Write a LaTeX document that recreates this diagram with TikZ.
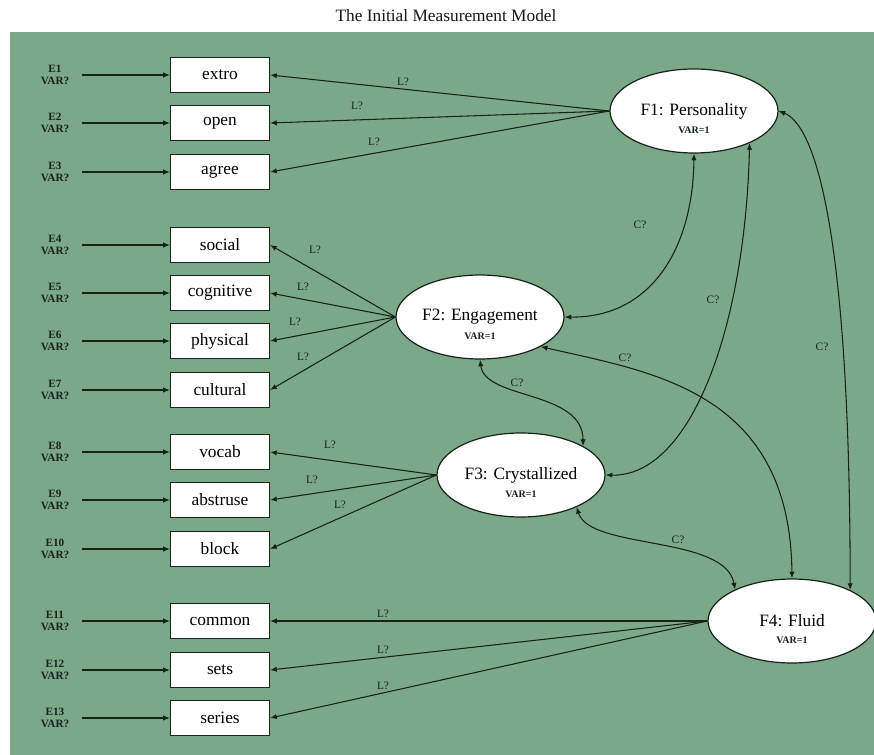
\documentclass[tikz,border=0pt]{standalone}
\usepackage{fontspec}
\setmainfont{Liberation Serif}
\usetikzlibrary{arrows.meta,shapes.geometric}
\definecolor{bg}{RGB}{124,168,138}
\definecolor{ink}{RGB}{22,34,26}
\begin{document}
\begin{tikzpicture}[x=0.75pt,y=-0.75pt,
  obs/.style={draw=ink, fill=white, line width=0.9pt, minimum width=74.25pt, minimum height=26.5pt, inner sep=0pt, font=\fontsize{13}{15}\selectfont},
  lat/.style={ellipse, draw=ink, fill=white, line width=0.9pt, minimum width=126pt, minimum height=63pt, inner sep=0pt, font=\fontsize{13}{15}\selectfont},
  varl/.style={inner sep=0pt, font=\bfseries\fontsize{7.5}{8}\selectfont, text=ink},
  err/.style={align=center, inner sep=0pt, minimum width=40pt, font=\bfseries\fontsize{8.4}{9}\selectfont, text=ink},
  lab/.style={inner sep=0pt, font=\fontsize{8.5}{10}\selectfont, text=ink},
  arr/.style={draw=ink, line width=0.8pt, -{Latex[length=5pt,width=4pt]}},
  cov/.style={draw=ink, line width=0.8pt, {Latex[length=5pt,width=4pt]}-{Latex[length=5pt,width=4pt]}}
]
\useasboundingbox (0,0) rectangle (874,755);
\fill[white] (0,0) rectangle (874,755);
\fill[bg] (10,32) rectangle (874,755);
\node[font=\fontsize{13}{15}\selectfont, text=ink!80!black] (title) at (446,16) {The Initial Measurement Model};

% observed variables
\node[obs] (extro) at (220,75) {extro};
\node[obs] (open) at (220,123) {open};
\node[obs] (agree) at (220,172) {agree};
\node[obs] (social) at (220,245) {social};
\node[obs] (cognitive) at (220,293) {cognitive};
\node[obs] (physical) at (220,341) {physical};
\node[obs] (cultural) at (220,390) {cultural};
\node[obs] (vocab) at (220,452) {vocab};
\node[obs] (abstruse) at (220,500) {abstruse};
\node[obs] (block) at (220,549) {block};
\node[obs] (common) at (220,621) {common};
\node[obs] (sets) at (220,670) {sets};
\node[obs] (series) at (220,718) {series};

% error terms
\node[err] (e1) at (55,75) {E1\\VAR?};
\node[err] (e2) at (55,123) {E2\\VAR?};
\node[err] (e3) at (55,172) {E3\\VAR?};
\node[err] (e4) at (55,245) {E4\\VAR?};
\node[err] (e5) at (55,293) {E5\\VAR?};
\node[err] (e6) at (55,341) {E6\\VAR?};
\node[err] (e7) at (55,390) {E7\\VAR?};
\node[err] (e8) at (55,452) {E8\\VAR?};
\node[err] (e9) at (55,500) {E9\\VAR?};
\node[err] (e10) at (55,549) {E10\\VAR?};
\node[err] (e11) at (55,621) {E11\\VAR?};
\node[err] (e12) at (55,670) {E12\\VAR?};
\node[err] (e13) at (55,718) {E13\\VAR?};

\foreach \e/\o in {e1/extro,e2/open,e3/agree,e4/social,e5/cognitive,e6/physical,e7/cultural,e8/vocab,e9/abstruse,e10/block,e11/common,e12/sets,e13/series}
  \draw[arr] (\e) -- (\o);

% latent factors
\node[lat] (F1) at (694,111) {F1: Personality};
\node[lat] (F2) at (480,317) {F2: Engagement};
\node[lat] (F3) at (521,475) {F3: Crystallized};
\node[lat] (F4) at (792,621) {F4: Fluid};
\node[varl] (v1) at (694,130) {VAR=1};
\node[varl] (v2) at (480,336) {VAR=1};
\node[varl] (v3) at (521,494) {VAR=1};
\node[varl] (v4) at (792,640) {VAR=1};

% loadings
\draw[arr] (F1.west) -- (extro.east);
\draw[arr] (F1.west) -- (open.east);
\draw[arr] (F1.west) -- (agree.east);
\draw[arr] (F2.west) -- (social.east);
\draw[arr] (F2.west) -- (cognitive.east);
\draw[arr] (F2.west) -- (physical.east);
\draw[arr] (F2.west) -- (cultural.east);
\draw[arr] (F3.west) -- (vocab.east);
\draw[arr] (F3.west) -- (abstruse.east);
\draw[arr] (F3.west) -- (block.east);
\draw[arr] (F4.west) -- (common.east);
\draw[arr] (F4.west) -- (sets.east);
\draw[arr] (F4.west) -- (series.east);

\node[lab] (l1) at (403,82) {L?};
\node[lab] (l2) at (357,106) {L?};
\node[lab] (l3) at (374,142) {L?};
\node[lab] (l4) at (315,250) {L?};
\node[lab] (l5) at (303,287) {L?};
\node[lab] (l6) at (295,322) {L?};
\node[lab] (l7) at (303,357) {L?};
\node[lab] (l8) at (330,445) {L?};
\node[lab] (l9) at (312,480) {L?};
\node[lab] (l10) at (340,505) {L?};
\node[lab] (l11) at (383,614) {L?};
\node[lab] (l12) at (383,650) {L?};
\node[lab] (l13) at (383,686) {L?};

% covariances
\draw[cov] (F1.south) .. controls (693,250) and (650,318) .. (F2.east);
\draw[cov] (F1.-30) .. controls (745,330) and (690,477) .. (F3.east);
\draw[cov] (F1.east) .. controls (815,125) and (850,230) .. (F4.28);
\draw[cov] (F2.south) .. controls (485,400) and (583,390) .. (F3.25);
\draw[cov] (F2.-26) .. controls (650,372) and (790,390) .. (F4.north);
\draw[cov] (F3.-30) .. controls (590,550) and (725,535) .. (F4.151);

\node[lab] (c12) at (640,225) {C?};
\node[lab] (c13) at (713,300) {C?};
\node[lab] (c14) at (822,347) {C?};
\node[lab] (c23) at (517,383) {C?};
\node[lab] (c24) at (625,358) {C?};
\node[lab] (c34) at (678,540) {C?};
\end{tikzpicture}
\end{document}
